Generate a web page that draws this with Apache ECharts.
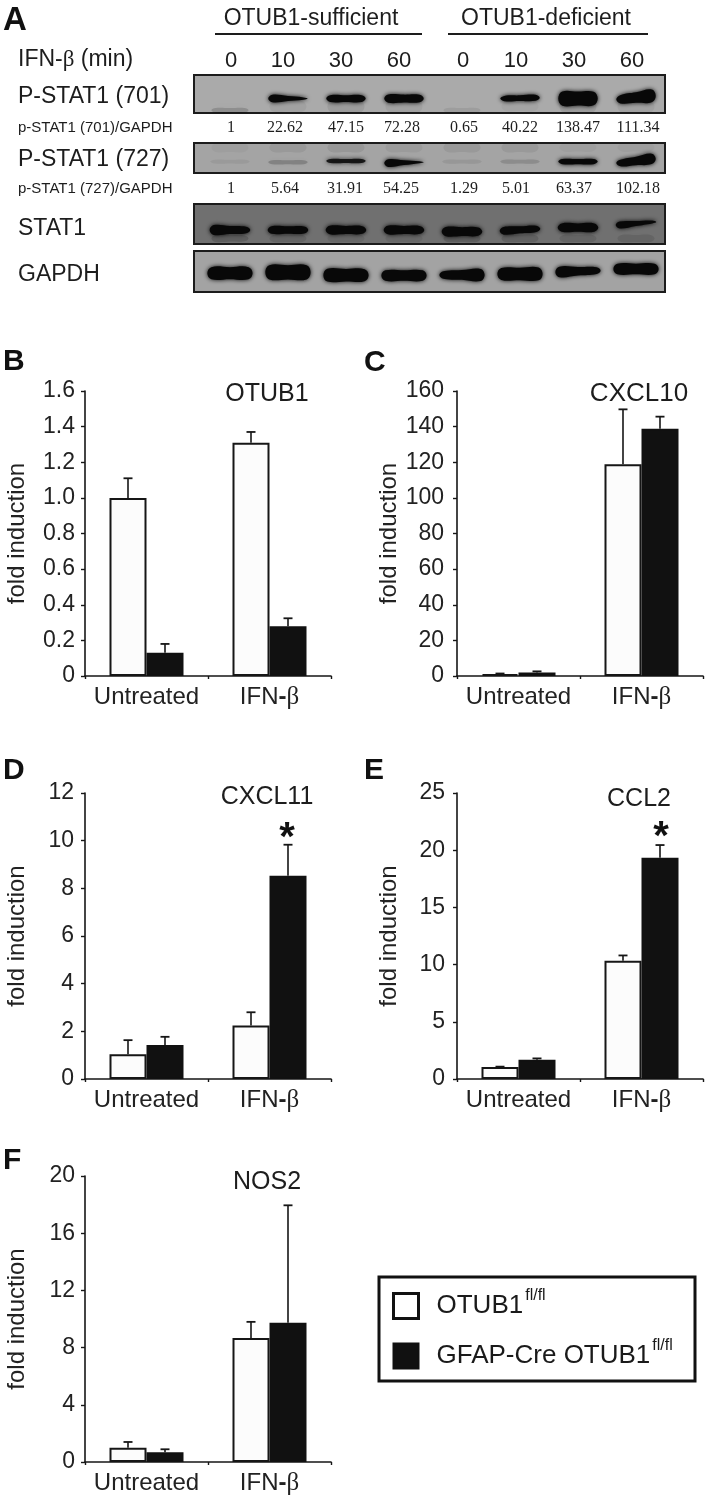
<!DOCTYPE html>
<html><head><meta charset="utf-8">
<style>html,body{margin:0;padding:0;background:#fff}#c{width:709px;height:1500px}</style>
<script src="https://cdn.jsdelivr.net/npm/echarts@6/dist/echarts.min.js"></script>
</head><body><div id="c"></div>
<script>
// ---------- DATA ----------
const categories = ['Untreated', 'IFN-β'];
const seriesNames = ['OTUB1', 'GFAP-Cre OTUB1'];

const otub1White = [1.0, 1.31],   otub1WhiteTop = [1.11, 1.37];
const otub1Black = [0.13, 0.28],  otub1BlackTop = [0.18, 0.324];
const otub1Ticks = [0, 1.6, 0.2];

const cxcl10White = [1.1, 118.9], cxcl10WhiteTop = [1.4, 149.7];
const cxcl10Black = [2.0, 138.8], cxcl10BlackTop = [2.6, 145.6];
const cxcl10Ticks = [0, 160, 20];

const cxcl11White = [1.04, 2.24], cxcl11WhiteTop = [1.63, 2.8];
const cxcl11Black = [1.43, 8.53], cxcl11BlackTop = [1.77, 9.83];
const cxcl11Ticks = [0, 12, 2];

const ccl2White = [1.05, 10.34],  ccl2WhiteTop = [1.08, 10.8];
const ccl2Black = [1.69, 19.35],  ccl2BlackTop = [1.8, 20.45];
const ccl2Ticks = [0, 25, 5];

const nos2White = [1.0, 8.68],    nos2WhiteTop = [1.4, 9.8];
const nos2Black = [0.68, 9.73],   nos2BlackTop = [0.89, 17.95];
const nos2Ticks = [0, 20, 4];

const laneLabels = ['0', '10', '30', '60', '0', '10', '30', '60'];
const ratio701 = ['1', '22.62', '47.15', '72.28', '0.65', '40.22', '138.47', '111.34'];
const ratio727 = ['1', '5.64', '31.91', '54.25', '1.29', '5.01', '63.37', '102.18'];

// blot bands, one row per lane: left strength, right strength, left level, right level, density
const bands701 = [[0,0,.38,.38,0],[.5,.15,.38,.38,1],[.45,.45,.38,.38,1],[.55,.5,.38,.38,1],
  [0,0,.38,.38,0],[.35,.4,.38,.4,1],[.95,.9,.38,.38,1],[.55,.85,.36,.45,1]];
const bands727 = [[.3,.3,.38,.38,.06],[.3,.3,.36,.36,.2],[.3,.3,.4,.4,.85],[.6,.15,.33,.36,1],
  [.3,.3,.38,.38,.08],[.3,.3,.38,.38,.14],[.4,.4,.38,.38,1],[.5,.8,.33,.47,1]];
const bandsStat1 = [[.7,.45,.35,.35,1],[.55,.5,.35,.35,1],[.6,.55,.35,.35,1],[.6,.55,.35,.35,1],
  [.65,.6,.31,.31,1],[.55,.45,.33,.38,1],[.6,.6,.41,.41,1],[.5,.2,.475,.55,1]];
const bandsGapdh = [[.8,.8,.46,.46,1],[.95,.95,.48,.48,1],[.85,.8,.41,.41,1],[.7,.7,.40,.40,1],
  [.5,.8,.415,.415,1],[.8,.85,.44,.44,1],[.7,.45,.49,.52,1],[.7,.7,.56,.56,1]];
// faint secondary smears: same row shape
const smear701 = [[.3,.3,.07,.07,.16],[.7,.7,.17,.17,.05],[.8,.8,.17,.17,.08],[.8,.8,.17,.17,.05],
  [.3,.3,.07,.07,.08],[.6,.6,.17,.17,.03],[.8,.8,.17,.17,.08],[.8,.8,.17,.17,.05]];
const smear727 = [[.7,.7,.85,.85,.03],[.7,.7,.85,.85,.07],[.7,.7,.85,.85,.08],[.7,.7,.85,.85,.05],
  [.7,.7,.85,.85,.07],[.7,.7,.85,.85,.07],[.6,.6,.85,.85,.03],[.6,.6,.85,.85,.03]];
const smearStat1 = [[.5,.4,.14,.14,.16],[.5,.5,.14,.14,.1],[.5,.5,.14,.14,.08],[.5,.5,.14,.14,.08],
  [.5,.5,.14,.14,.15],[.5,.5,.14,.14,.13],[.5,.5,.14,.14,.1],[.5,.5,.14,.14,.1]];

// ---------- LAYOUT ----------
const BASE = '"Liberation Sans", Arial, sans-serif';
const SERIF = '"Liberation Serif", serif';
const INK = '#161616';
const BAR = 37;
const grids = [], xAxes = [], yAxes = [], series = [];

function addGrid(g) { grids.push(g); return grids.length - 1; }

function errorSeries(i, tops, bases, offset) {
  series.push({
    type: 'custom', xAxisIndex: i, yAxisIndex: i, z: 5, silent: true, clip: false,
    data: tops.map((t, k) => [k, t, bases[k]]),
    encode: { x: 0, y: [1, 2] },
    renderItem(params, api) {
      const top = api.coord([api.value(0), api.value(1)]);
      const bot = api.coord([api.value(0), api.value(2)]);
      const x = top[0] + offset;
      return { type: 'group', children: [
        { type: 'line', shape: { x1: x, y1: top[1], x2: x, y2: bot[1] }, style: { stroke: INK, lineWidth: 1.6 } },
        { type: 'line', shape: { x1: x - 4.5, y1: top[1], x2: x + 4.5, y2: top[1] }, style: { stroke: INK, lineWidth: 1.8 } }
      ]};
    }
  });
}

function panel(g, ticks, white, whiteTop, black, blackTop, labelMargin) {
  const i = addGrid({ left: g[0], top: g[1], width: g[2], height: g[3], containLabel: false });
  const axisLine = { show: true, lineStyle: { color: INK, width: 1.6 } };
  xAxes.push({
    gridIndex: i, type: 'category', data: categories, axisLine, axisTick: { show: true, length: 3, lineStyle: { color: INK, width: 1.4 } },
    axisLabel: { interval: 0, hideOverlap: false, margin: 9, fontFamily: BASE, fontSize: 24, color: '#222',
      formatter: v => v.replace('-', '{b|-}').replace('β', '{g|β}'),
      rich: { b: { fontFamily: BASE, fontWeight: 'bold', fontSize: 24, color: '#222' }, g: { fontFamily: SERIF, fontSize: 25, color: '#222' } } }
  });
  yAxes.push({
    gridIndex: i, type: 'value', min: ticks[0], max: ticks[1], interval: ticks[2], splitLine: { show: false }, axisLine,
    axisTick: { show: true, length: 4, lineStyle: { color: INK, width: 1.4 } },
    axisLabel: { margin: labelMargin, fontFamily: BASE, fontSize: 23, color: '#222', padding: [0, 0, 9, 0],
      formatter: v => (ticks[2] < 1 ? (v === 0 ? '0' : v.toFixed(1)) : String(v)) },
    name: 'fold induction', nameLocation: 'middle', nameRotate: 90, nameGap: 56,
    nameTextStyle: { fontFamily: BASE, fontSize: 24, color: '#222' }
  });
  series.push({ type: 'bar', name: seriesNames[0], xAxisIndex: i, yAxisIndex: i, data: white, barWidth: BAR, barGap: '0%', z: 2,
    itemStyle: { color: '#fcfcfc', borderColor: INK, borderWidth: 2 } });
  series.push({ type: 'bar', name: seriesNames[1], xAxisIndex: i, yAxisIndex: i, data: black, barWidth: BAR, barGap: '0%', z: 3,
    itemStyle: { color: '#111', borderColor: '#111', borderWidth: 1.5 } });
  errorSeries(i, whiteTop, white, -BAR / 2);
  errorSeries(i, blackTop, black, BAR / 2);
}

panel([85, 391, 246, 285], otub1Ticks, otub1White, otub1WhiteTop, otub1Black, otub1BlackTop, 10);
panel([457, 391, 246, 285], cxcl10Ticks, cxcl10White, cxcl10WhiteTop, cxcl10Black, cxcl10BlackTop, 13);
panel([85, 793, 246, 286], cxcl11Ticks, cxcl11White, cxcl11WhiteTop, cxcl11Black, cxcl11BlackTop, 11);
panel([457, 793, 246, 286], ccl2Ticks, ccl2White, ccl2WhiteTop, ccl2Black, ccl2BlackTop, 12);
panel([85, 1176, 246, 286], nos2Ticks, nos2White, nos2WhiteTop, nos2Black, nos2BlackTop, 10);

function bandSeries(i, rows, maxThick, halfWidth, blur, z) {
  series.push({
    type: 'custom', xAxisIndex: i, yAxisIndex: i, silent: true, z,
    data: rows.map((r, k) => [k].concat(r)),
    encode: { x: 0, y: 3 },
    renderItem(params, api) {
      const lane = api.value(0), l = api.value(1) * maxThick / 2, r = api.value(2) * maxThick / 2;
      const d = api.value(5);
      if (d <= 0) return null;
      const pl = api.coord([lane - halfWidth, api.value(3)]);
      const pr = api.coord([lane + halfWidth, api.value(4)]);
      const xm = (pl[0] + pr[0]) / 2, ym = (pl[1] + pr[1]) / 2, m = (l + r) / 2;
      const color = 'rgba(8,8,8,' + d + ')';
      return { type: 'polygon',
        shape: { smooth: 0.4, points: [[pl[0], pl[1]], [pl[0] + 4, pl[1] - l], [xm, ym - m], [pr[0] - 4, pr[1] - r], [pr[0], pr[1]], [pr[0] - 4, pr[1] + r], [xm, ym + m], [pl[0] + 4, pl[1] + l]] },
        style: { fill: color, shadowBlur: blur, shadowColor: color } };
    }
  });
}

function blot(top, height, background, rows, maxThick, halfWidth, faint) {
  const i = addGrid({ show: true, left: 194, top, width: 471, height, backgroundColor: background, borderColor: '#1c1c1c', borderWidth: 2 });
  xAxes.push({ gridIndex: i, type: 'value', min: -0.62, max: 7.5, show: false });
  yAxes.push({ gridIndex: i, type: 'value', min: 0, max: 1, show: false });
  if (faint) bandSeries(i, faint, maxThick, 0.32, 10, 2);
  bandSeries(i, rows, maxThick, halfWidth, 4, 3);
}

blot(75, 38, '#aaaaaa', bands701, 15, 0.34, smear701);
blot(143, 30, '#a4a4a4', bands727, 13, 0.34, smear727);
blot(204, 40, '#707070', bandsStat1, 14, 0.35, smearStat1);
blot(251, 41, '#a3a3a3', bandsGapdh, 15, 0.39);

// ---------- TEXT ----------
const graphic = [];
function text(x, y, s, size, opts) {
  opts = opts || {};
  graphic.push({ type: 'text', x, y, silent: true, z: 20, style: {
    text: s, fill: opts.fill || '#1d1d1d', align: opts.align || 'left', verticalAlign: 'middle',
    font: (opts.weight ? opts.weight + ' ' : '') + size + 'px ' + (opts.family || BASE), rich: opts.rich } });
}
function rule(x1, x2, y) {
  graphic.push({ type: 'line', silent: true, z: 20, shape: { x1, y1: y, x2, y2: y }, style: { stroke: '#1d1d1d', lineWidth: 2 } });
}

[['A', 3, 21, 33], ['B', 3, 362, 30], ['C', 364, 363, 30], ['D', 3, 771, 30], ['E', 364, 771, 30], ['F', 3, 1161, 30]]
  .forEach(p => text(p[1], p[2], p[0], p[3], { weight: 'bold', fill: '#111' }));

text(311, 19, 'OTUB1-sufficient', 23, { align: 'center' });
text(546, 19, 'OTUB1-deficient', 23, { align: 'center' });
rule(215, 422, 34); rule(448, 648, 34);
text(18, 60, 'IFN-{g|β} (min)', 23, { rich: { g: { fontFamily: SERIF, fontSize: 23, fill: '#1d1d1d' } } });

const laneX = [231, 283, 341, 399, 463, 516, 574, 632];
laneLabels.forEach((s, k) => text(laneX[k], 61, s, 22, { align: 'center' }));
const ratioX701 = [231, 285, 346, 402, 464, 520, 578, 638];
const ratioX727 = [231, 285, 345, 401, 464, 516, 574, 638];
ratio701.forEach((s, k) => text(ratioX701[k], 128, s, 16, { align: 'center', family: SERIF }));
ratio727.forEach((s, k) => text(ratioX727[k], 189, s, 16, { align: 'center', family: SERIF }));

text(18, 97, 'P-STAT1 (701)', 23);
text(18, 160, 'P-STAT1 (727)', 23);
text(18, 229, 'STAT1', 23);
text(18, 275, 'GAPDH', 23);
text(18, 128, 'p-STAT1 (701)/GAPDH', 15);
text(18, 189, 'p-STAT1 (727)/GAPDH', 15);

text(267, 394, 'OTUB1', 25, { align: 'center' });
text(639, 394, 'CXCL10', 26, { align: 'center' });
text(267, 797, 'CXCL11', 25, { align: 'center' });
text(639, 799, 'CCL2', 25, { align: 'center' });
text(267, 1182, 'NOS2', 25, { align: 'center' });
text(287, 839, '*', 40, { align: 'center', weight: 'bold', fill: '#111' });
text(661, 838, '*', 40, { align: 'center', weight: 'bold', fill: '#111' });

graphic.push({ type: 'rect', silent: true, z: 1, shape: { x: 379, y: 1277, width: 316, height: 104 },
  style: { fill: '#fff', stroke: '#111', lineWidth: 3 } });

// ---------- CHART ----------
const chart = echarts.init(document.getElementById('c'), null, { renderer: 'canvas', width: 709, height: 1500 });
chart.setOption({
  animation: false, backgroundColor: '#fff', tooltip: { show: false },
  grid: grids, xAxis: xAxes, yAxis: yAxes, series, graphic,
  legend: {
    left: 392, top: 1288, orient: 'vertical', itemWidth: 25, itemHeight: 25, itemGap: 18, selectedMode: false, padding: 0, z: 10,
    data: [
      { name: seriesNames[0], icon: 'rect', itemStyle: { color: '#fff', borderColor: '#111', borderWidth: 3 } },
      { name: seriesNames[1], icon: 'rect', itemStyle: { color: '#111', borderColor: '#111', borderWidth: 2 } }
    ],
    formatter: n => '{t|' + n + '}{s|fl/fl}',
    textStyle: { padding: [0, 0, 0, 13], rich: {
      t: { fontFamily: BASE, fontSize: 26, color: '#1a1a1a', lineHeight: 30 },
      s: { fontFamily: BASE, fontSize: 16, color: '#1a1a1a', padding: [0, 0, 20, 2] }
    } }
  }
});
</script></body></html>
